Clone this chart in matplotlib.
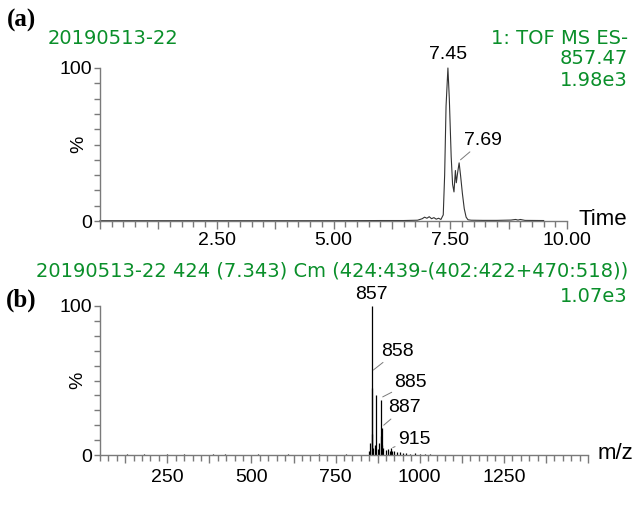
import matplotlib
matplotlib.use("Agg")
import matplotlib.pyplot as plt
from matplotlib.ticker import MultipleLocator, FuncFormatter

# ---- data ----
chrom_time = [0.0, 1.0, 2.0, 3.0, 4.0, 5.0, 6.0, 6.5, 6.8, 6.9, 6.95, 7.0, 7.05, 7.1, 7.15,
              7.2, 7.25, 7.3, 7.35, 7.38, 7.41, 7.45, 7.48, 7.52, 7.55, 7.58, 7.61, 7.63,
              7.66, 7.69, 7.72, 7.76, 7.8, 7.84, 7.88, 7.95, 8.2, 8.5, 8.8, 8.9, 8.95, 9.0,
              9.1, 9.5]
chrom_int = [0.2, 0.2, 0.2, 0.2, 0.2, 0.2, 0.3, 0.3, 0.5, 1.5, 2.5, 1.8, 2.8, 1.5, 2.2,
             1.2, 1.8, 1.0, 4.0, 30.0, 75.0, 100.0, 80.0, 42.0, 24.0, 19.0, 33.0, 25.0,
             32.0, 38.0, 30.0, 18.0, 8.0, 2.5, 0.8, 0.5, 0.4, 0.4, 0.6, 1.0, 0.6, 1.0,
             0.4, 0.3]

spec_mz = [130, 180, 250, 300, 385, 420, 520, 610, 700, 780, 850, 853, 857, 858, 859, 862,
           866, 871, 876, 880, 885, 886, 887, 888, 891, 899, 905, 913, 915, 917, 925, 933,
           941, 950, 960, 972, 985, 1000, 1015, 1030]
spec_int = [0.5, 0.4, 0.8, 0.5, 0.7, 0.9, 0.5, 0.4, 0.6, 0.5, 3.0, 8.0, 100.0, 45.0, 14.0,
            5.0, 7.0, 40.0, 4.0, 8.0, 37.0, 13.0, 18.0, 7.0, 5.0, 3.5, 4.0, 3.0, 5.0, 2.5,
            2.5, 2.0, 2.0, 1.5, 1.5, 1.0, 1.2, 0.8, 0.8, 0.6]

W, H = 637, 514
green = "#0a8f2a"
gray = "#7a7a7a"
plt.rcParams["font.family"] = ["Liberation Sans", "DejaVu Sans"]
wide = ["DejaVu Sans"]

fig = plt.figure(figsize=(W / 100, H / 100), dpi=100)


def fx(x):
    return x / W


def fy(y):
    return 1 - y / H


def style_axes(ax, pad):
    for s in ("top", "right"):
        ax.spines[s].set_visible(False)
    for s in ("left", "bottom"):
        ax.spines[s].set_color(gray)
        ax.spines[s].set_linewidth(1.0)
    ax.tick_params(which="major", length=6, color=gray, width=1.0, labelsize=14, pad=pad)
    ax.tick_params(which="minor", length=4, color=gray, width=1.0)
    ax.yaxis.set_major_locator(MultipleLocator(100))
    ax.yaxis.set_minor_locator(MultipleLocator(10))
    ax.tick_params(axis="y", which="major", length=4, pad=2)
    ax.set_ylim(0, 100)
    ax.set_facecolor("none")


arrow = dict(arrowstyle="-", color=gray, lw=0.7, shrinkA=0, shrinkB=0)

# ---- (a) chromatogram ----
ax1 = fig.add_axes([fx(100), fy(221), fx(567) - fx(100), fy(68) - fy(221)])
style_axes(ax1, 2)
ax1.plot(chrom_time, chrom_int, color="#333333", lw=0.8, clip_on=False)
ax1.set_xlim(0, 10)
ax1.xaxis.set_major_locator(MultipleLocator(1.25))
ax1.xaxis.set_minor_locator(MultipleLocator(0.25))
ax1.xaxis.set_major_formatter(FuncFormatter(
    lambda v, p: ("%.2f" % v) if (v > 0 and abs(v / 2.5 - round(v / 2.5)) < 1e-6) else ""))
ax1.text(7.45, 103, "7.45", ha="center", va="bottom", fontsize=14, clip_on=False)
ax1.annotate("7.69", xy=(7.72, 40), xytext=(7.8, 47), fontsize=14, ha="left", va="bottom",
             arrowprops=arrow)
ax1.text(1.025, 0.01, "Time", transform=ax1.transAxes, ha="left", va="center", fontsize=16)
ax1.text(-0.045, 0.5, "%", transform=ax1.transAxes, rotation=90, ha="center", va="center",
         fontsize=14)

# ---- (b) spectrum ----
ax2 = fig.add_axes([fx(100), fy(455), fx(588) - fx(100), fy(306) - fy(455)])
style_axes(ax2, 4)
ax2.vlines(spec_mz, 0, spec_int, color="black", lw=0.9)
ax2.set_xlim(50, 1500)
ax2.xaxis.set_major_locator(MultipleLocator(125))
ax2.xaxis.set_minor_locator(MultipleLocator(25))
ax2.xaxis.set_major_formatter(FuncFormatter(
    lambda v, p: ("%d" % v) if (0 < v < 1500 and abs(v / 250 - round(v / 250)) < 1e-6) else ""))
ax2.text(857, 102, "857", ha="center", va="bottom", fontsize=14, clip_on=False)
ax2.annotate("858", xy=(862, 57), xytext=(885, 64), fontsize=14, ha="left", va="bottom",
             arrowprops=arrow)
ax2.annotate("885", xy=(890, 39), xytext=(925, 43), fontsize=14, ha="left", va="bottom",
             arrowprops=arrow)
ax2.annotate("887", xy=(893, 20), xytext=(905, 26), fontsize=14, ha="left", va="bottom",
             arrowprops=arrow)
ax2.annotate("915", xy=(920, 5), xytext=(935, 5), fontsize=14, ha="left", va="bottom",
             arrowprops=arrow)
ax2.text(1.02, 0.01, "m/z", transform=ax2.transAxes, ha="left", va="center", fontsize=16)
ax2.text(-0.045, 0.5, "%", transform=ax2.transAxes, rotation=90, ha="center", va="center",
         fontsize=14)

# ---- header texts ----
serif = ["Liberation Serif", "DejaVu Serif"]
fig.text(fx(7), fy(20), "(a)", fontsize=18, fontweight="bold", family=serif, va="center")
fig.text(fx(6), fy(300), "(b)", fontsize=18, fontweight="bold", family=serif, va="center")
fig.text(fx(48), fy(39), "20190513-22", color=green, fontsize=14, family=wide, va="center")
fig.text(fx(628), fy(39), "1: TOF MS ES-", color=green, fontsize=14, family=wide,
         va="center", ha="right")
fig.text(fx(628), fy(59), "857.47", color=green, fontsize=14, family=wide,
         va="center", ha="right")
fig.text(fx(628), fy(80), "1.98e3", color=green, fontsize=14, family=wide,
         va="center", ha="right")
fig.text(fx(628), fy(271), "20190513-22 424 (7.343) Cm (424:439-(402:422+470:518))",
         color=green, fontsize=14, family=wide, va="center", ha="right")
fig.text(fx(628), fy(296), "1.07e3", color=green, fontsize=14, family=wide,
         va="center", ha="right")

fig.savefig("out.png", dpi=100)
